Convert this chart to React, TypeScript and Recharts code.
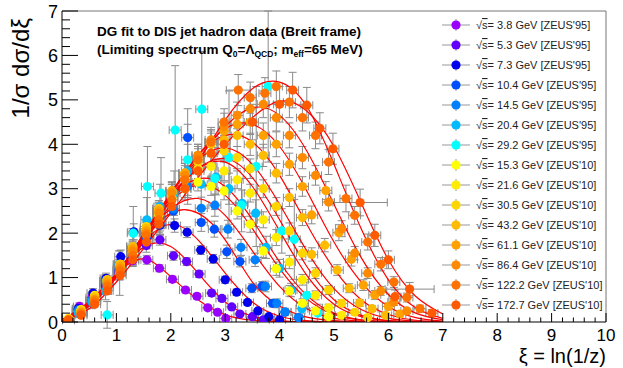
import React from "react";
import {
  ComposedChart,
  XAxis,
  YAxis,
  Scatter,
  Line,
  ErrorBar,
  ReferenceLine,
} from "recharts";

const W = 623;
const H = 368;

// legend labels and marker colours (legend order)
const LABELS = [
  "3.8 GeV [ZEUS'95]",
  "5.3 GeV [ZEUS'95]",
  "7.3 GeV [ZEUS'95]",
  "10.4 GeV [ZEUS'95]",
  "14.5 GeV [ZEUS'95]",
  "20.4 GeV [ZEUS'95]",
  "29.2 GeV [ZEUS'95]",
  "15.3 GeV [ZEUS'10]",
  "21.6 GeV [ZEUS'10]",
  "30.5 GeV [ZEUS'10]",
  "43.2 GeV [ZEUS'10]",
  "61.1 GeV [ZEUS'10]",
  "86.4 GeV [ZEUS'10]",
  "122.2 GeV [ZEUS'10]",
  "172.7 GeV [ZEUS'10]",
];
const COLORS = [
  "#9900ff", "#6200ff", "#0000ee", "#0050ff", "#0080ff", "#00bbff", "#00ffff",
  "#ffff00", "#ffec00", "#ffd500", "#ffbb00", "#ffa200", "#ff8a00", "#ff7200", "#ff5a00",
];

// data points: [xi, value, yError, xError?]
const D_38 = [[0.32,0.35,0.08],[0.55,0.55,0.1],[0.8,0.85,0.1],[1.05,1.15,0.12],[1.3,1.38,0.12],[1.56,1.4,0.1],[1.79,1.21,0.08],[2.03,0.96,0.07],[2.27,0.72,0.06],[2.48,0.58,0.06],[2.68,0.32,0.05],[2.86,0.22,0.04],[3.01,0.08,0.03]];
const D_53 = [[0.3,0.25,0.08],[0.55,0.48,0.1],[0.8,0.8,0.12],[1.05,1.1,0.15],[1.3,1.45,0.15],[1.55,1.72,0.15],[1.8,1.85,0.12],[2.05,1.49,0.1],[2.29,1.36,0.09],[2.52,1.08,0.08],[2.75,0.65,0.07],[2.94,0.53,0.06],[3.12,0.34,0.05],[3.27,0.18,0.04],[3.5,0.12,0.03],[3.7,0.05,0.03]];
const D_73 = [[0.3,0.3,0.08],[0.57,0.65,0.1],[0.81,0.98,0.12],[1.08,1.47,0.15],[1.32,2.03,0.18],[1.57,1.95,0.2],[1.8,2.18,0.2],[2.07,2.17,0.15],[2.3,2.02,0.12],[2.55,1.62,0.1],[2.78,1.42,0.1],[3.0,0.95,0.08],[3.21,0.67,0.07],[3.41,0.44,0.06],[3.6,0.25,0.05],[3.8,0.12,0.04],[4.0,0.05,0.03]];
const D_104 = [[0.3,0.28,0.08],[0.55,0.45,0.1],[0.8,0.9,0.15],[1.05,1.15,0.2],[1.3,1.5,0.25],[1.55,1.9,0.25],[1.8,2.2,0.25],[2.05,2.5,0.3],[2.31,4.15,0.65],[2.56,2.24,0.2],[2.8,2.09,0.18],[3.03,1.58,0.15],[3.27,1.36,0.12],[3.49,0.76,0.1],[3.68,0.81,0.1],[3.87,0.42,0.08],[4.1,0.22,0.06],[4.35,0.1,0.05]];
const D_145 = [[0.3,0.25,0.08],[0.55,0.5,0.1],[0.8,0.92,0.15],[1.05,1.2,0.2],[1.3,1.6,0.25],[1.55,2.0,0.3],[1.8,2.35,0.3],[2.05,2.55,0.3],[2.31,3.05,0.4],[2.56,2.56,0.25],[2.81,2.63,0.25],[3.05,2.09,0.2],[3.29,1.68,0.18],[3.55,1.4,0.15],[3.74,0.8,0.12],[3.95,0.42,0.1],[4.1,0.23,0.08],[4.35,0.1,0.06]];
const D_204 = [[0.3,0.2,0.1],[0.55,0.45,0.15],[0.8,0.7,0.2],[1.05,1.3,0.3],[1.3,1.7,0.4],[1.56,2.3,0.5],[1.8,2.6,0.5],[2.06,2.9,0.5],[2.31,3.4,0.6],[2.56,3.1,0.5],[2.83,3.26,0.4],[3.07,3.0,0.35],[3.31,2.67,0.3],[3.56,2.45,0.3],[3.75,1.68,0.25],[4.0,1.21,0.2],[4.21,0.72,0.15],[4.41,0.3,0.1]];
const D_292 = [[0.83,0.16,0.3],[1.06,1.1,0.5],[1.31,2.0,0.6],[1.57,3.05,0.9],[1.82,2.9,0.8],[2.08,4.32,1.45],[2.31,3.65,0.8],[2.57,4.79,1.3],[2.81,3.23,0.7],[3.07,3.7,1.5],[3.3,2.63,0.6],[3.57,3.5,1.8],[3.79,5.3,1.7],[4.04,2.05,0.5],[4.27,1.86,0.9],[4.5,0.6,0.3],[4.7,0.2,0.2]];
const D_153 = [[0.12,0.08,0.03],[0.35,0.25,0.04],[0.6,0.55,0.06],[0.83,0.95,0.08],[1.07,1.25,0.1],[1.3,1.6,0.12],[1.55,2.05,0.15],[1.78,2.4,0.15],[2.02,2.8,0.18],[2.26,3.0,0.2],[2.5,3.15,0.2],[2.74,3.05,0.2],[2.98,2.95,0.2],[3.22,2.5,0.18],[3.46,2.2,0.18],[3.7,1.6,0.15],[3.94,1.2,0.15],[4.18,0.7,0.12],[4.42,0.42,0.1],[4.66,0.25,0.08],[4.9,0.12,0.06]];
const D_216 = [[0.12,0.06,0.03],[0.35,0.28,0.04],[0.6,0.6,0.06],[0.83,0.9,0.08],[1.07,1.3,0.1],[1.3,1.65,0.12],[1.55,2.1,0.15],[1.78,2.5,0.18],[2.02,2.9,0.2],[2.26,3.2,0.2],[2.5,3.45,0.22],[2.74,3.5,0.22],[2.98,3.4,0.22],[3.22,3.2,0.2],[3.46,2.9,0.2],[3.7,2.3,0.18],[3.94,1.9,0.18],[4.18,1.35,0.15],[4.42,0.95,0.12],[4.66,0.6,0.1],[4.9,0.32,0.08],[5.14,0.15,0.06]];
const D_305 = [[0.12,0.07,0.03],[0.35,0.26,0.04],[0.6,0.58,0.06],[0.83,0.92,0.08],[1.07,1.3,0.1],[1.3,1.68,0.12],[1.55,2.15,0.15],[1.78,2.55,0.18],[2.02,2.95,0.2],[2.26,3.35,0.22],[2.5,3.6,0.22],[2.74,3.8,0.25],[2.98,3.85,0.25],[3.22,3.7,0.25],[3.46,3.45,0.22],[3.7,3.0,0.2],[3.94,2.6,0.2],[4.18,2.05,0.18],[4.42,1.55,0.15],[4.66,1.1,0.12],[4.9,0.72,0.1],[5.14,0.42,0.08],[5.38,0.22,0.06],[5.62,0.1,0.05]];
const D_432 = [[0.12,0.05,0.03],[0.35,0.25,0.04],[0.6,0.55,0.06],[0.83,0.95,0.08],[1.07,1.3,0.1],[1.3,1.7,0.12],[1.55,2.1,0.15],[1.78,2.55,0.18],[2.02,2.95,0.2],[2.26,3.35,0.22],[2.5,3.7,0.25],[2.74,4.0,0.25],[2.98,4.1,0.25],[3.22,4.2,0.25],[3.46,4.0,0.25],[3.7,3.75,0.25],[3.94,3.35,0.22],[4.18,2.8,0.2],[4.42,2.35,0.18],[4.59,1.52,0.15],[4.83,1.73,0.15],[5.06,1.17,0.12],[5.28,0.76,0.1],[5.47,0.43,0.08],[5.7,0.3,0.06],[5.95,0.15,0.05]];
const D_611 = [[0.12,0.06,0.03],[0.35,0.22,0.04],[0.6,0.5,0.06],[0.83,0.9,0.08],[1.07,1.25,0.1],[1.3,1.65,0.12],[1.55,2.05,0.15],[1.78,2.5,0.18],[2.02,2.95,0.2],[2.26,3.35,0.22],[2.5,3.75,0.25],[2.74,4.05,0.25],[2.98,4.3,0.25],[3.22,4.45,0.28],[3.46,4.5,0.28],[3.7,4.2,0.28],[3.94,4.0,0.28],[4.18,3.55,0.25],[4.42,3.05,0.22],[4.59,2.41,0.2],[4.85,2.96,0.2],[5.09,2.01,0.18],[5.32,1.41,0.15],[5.54,0.83,0.12],[5.75,0.61,0.1],[6.0,0.35,0.08],[6.21,0.18,0.06]];
const D_864 = [[0.12,0.05,0.03],[0.35,0.2,0.04],[0.6,0.5,0.06],[0.83,0.85,0.08],[1.07,1.2,0.1],[1.3,1.6,0.12],[1.55,2.0,0.15],[1.78,2.45,0.18],[2.02,2.9,0.2],[2.26,3.3,0.22],[2.5,3.75,0.25],[2.74,4.1,0.28],[2.98,4.4,0.3],[3.22,4.65,0.3],[3.46,4.8,0.3],[3.7,4.9,0.3],[3.94,4.6,0.3],[4.18,4.2,0.28],[4.42,3.7,0.25],[4.66,3.3,0.22],[4.9,2.7,0.2],[5.14,2.1,0.18],[5.38,1.55,0.15],[5.62,1.1,0.12],[5.86,0.7,0.1],[6.1,0.45,0.08],[6.34,0.25,0.06]];
const D_1222 = [[0.12,0.04,0.03],[0.35,0.18,0.04],[0.6,0.45,0.06],[0.83,0.8,0.08],[1.07,1.15,0.1],[1.3,1.5,0.12],[1.55,1.95,0.15],[1.78,2.3,0.18],[2.02,2.75,0.2],[2.26,3.2,0.22],[2.5,3.65,0.25],[2.74,4.05,0.28],[2.98,4.5,0.3],[3.24,5.22,0.35,0.22],[3.46,5.05,0.35],[3.73,5.15,0.35],[3.94,5.3,0.35],[4.18,4.95,0.35],[4.42,4.6,0.3],[4.66,4.2,0.3],[4.9,3.6,0.28],[5.22,2.78,0.3],[5.38,2.4,0.2],[5.62,1.8,0.18],[5.86,1.3,0.15],[6.1,0.9,0.12],[6.34,0.55,0.1],[6.58,0.3,0.08]];
const D_1727 = [[0.12,0.04,0.03],[0.35,0.15,0.04],[0.6,0.4,0.06],[0.83,0.7,0.08],[1.07,1.05,0.1],[1.3,1.4,0.12],[1.55,1.8,0.15],[1.78,2.2,0.18],[2.02,2.6,0.2],[2.26,3.0,0.25],[2.5,3.4,0.3],[2.74,3.8,0.3],[2.98,4.0,0.35],[3.5,4.5,0.4],[4.0,4.9,0.4],[4.24,5.22,0.4],[4.5,4.88,0.4],[4.74,4.36,0.35],[4.98,3.9,0.35],[5.48,2.69,0.3,0.5],[5.75,1.95,0.25],[6.0,1.4,0.2],[6.12,0.57,0.15],[6.39,0.74,0.15,0.45],[6.8,0.2,0.08]];

// fitted DG curves, sampled at XI_GRID
const XI_GRID = [0, 0.5, 1, 1.5, 2, 2.5, 3, 3.5, 4, 4.5, 5, 5.5, 6, 6.5, 7];
const FIT_38 = [0.05,0.46,1.08,1.42,1.02,0.5,0.16,0.04,0.01,0,0,0,0,0,0];
const FIT_53 = [0.05,0.44,1.08,1.68,1.7,1.1,0.45,0.13,0.03,0,0,0,0,0,0];
const FIT_73 = [0.05,0.42,1.07,1.8,2.2,1.85,1.1,0.45,0.13,0.03,0,0,0,0,0];
const FIT_104 = [0.04,0.41,1.07,1.85,2.45,2.45,1.85,0.9,0.36,0.11,0.03,0,0,0,0];
const FIT_145 = [0.04,0.4,1.06,1.9,2.55,2.78,2.4,1.6,0.8,0.3,0.08,0.02,0,0,0];
const FIT_204 = [0.04,0.4,1.07,1.95,2.72,3.08,2.85,2.1,1.2,0.52,0.17,0.04,0.01,0,0];
const FIT_292 = [0.04,0.38,1.04,1.92,2.8,3.45,3.68,3.25,2.3,1.25,0.5,0.15,0.03,0,0];
const FIT_153 = [0.04,0.4,1.08,1.98,2.8,3.22,3.05,2.3,1.35,0.6,0.2,0.05,0.01,0,0];
const FIT_216 = [0.04,0.4,1.07,1.98,2.85,3.45,3.6,3.05,2.05,1.05,0.4,0.12,0.03,0,0];
const FIT_305 = [0.04,0.39,1.06,1.97,2.9,3.65,3.92,3.55,2.65,1.6,0.75,0.28,0.08,0.02,0];
const FIT_432 = [0.04,0.38,1.05,1.95,2.9,3.75,4.2,4.05,3.3,2.2,1.2,0.5,0.17,0.04,0.01];
const FIT_611 = [0.04,0.38,1.04,1.9,2.85,3.75,4.35,4.45,3.95,2.95,1.8,0.9,0.35,0.1,0.02];
const FIT_864 = [0.04,0.37,1.02,1.85,2.75,3.65,4.4,4.82,4.65,3.85,2.65,1.45,0.62,0.2,0.05];
const FIT_1222 = [0.04,0.36,1.0,1.8,2.65,3.6,4.55,5.25,5.4,4.85,3.55,2.1,0.95,0.32,0.08];
const FIT_1727 = [0.03,0.3,0.9,1.65,2.45,3.25,4.0,4.6,4.97,4.75,3.95,2.68,1.4,0.58,0.18];

const DATA_SETS = [D_38, D_53, D_73, D_104, D_145, D_204, D_292, D_153, D_216, D_305, D_432, D_611, D_864, D_1222, D_1727];
const FITS = [FIT_38, FIT_53, FIT_73, FIT_104, FIT_145, FIT_204, FIT_292, FIT_153, FIT_216, FIT_305, FIT_432, FIT_611, FIT_864, FIT_1222, FIT_1727];

const X_MAJOR = [0, 1, 2, 3, 4, 5, 6, 7, 8, 9, 10];
const Y_MAJOR = [0, 1, 2, 3, 4, 5, 6, 7];

const FONT = "'Liberation Sans', Arial, Helvetica, sans-serif";

const xTicks = Array.from({ length: 51 }, (_, i) => Math.round(i * 2) / 10);
const yTicks = Array.from({ length: 36 }, (_, i) => Math.round(i * 2) / 10);

const isMajor = (v: number) => Math.abs(v - Math.round(v)) < 1e-6;

const XTick = (p: any) => {
  const v = p.payload.value;
  const major = isMajor(v) && X_MAJOR.includes(Math.round(v));
  return (
    <g>
      <line x1={p.x} x2={p.x} y1={p.y} y2={p.y - (major ? 9 : 4.5)} stroke="#000" />
      {major && (
        <text x={p.x} y={p.y + 19} textAnchor="middle" fontSize={17} fontFamily={FONT} fill="#000">
          {v}
        </text>
      )}
    </g>
  );
};

const YTick = (p: any) => {
  const v = p.payload.value;
  const major = isMajor(v) && Y_MAJOR.includes(Math.round(v));
  return (
    <g>
      <line x1={p.x} x2={p.x + (major ? 16 : 8)} y1={p.y} y2={p.y} stroke="#000" />
      {major && (
        <text x={p.x - 4} y={p.y + 6.5} textAnchor="end" fontSize={18} fontFamily={FONT} fill="#000">
          {v}
        </text>
      )}
    </g>
  );
};

export default function App() {
  const sets = DATA_SETS.map((rows) =>
    rows.map((r) => ({ x: r[0], y: r[1], ey: r[2], ex: r[3] ?? 0.11 }))
  );
  const fits = FITS.map((vals) => XI_GRID.map((x, i) => ({ x, y: vals[i] })));

  return (
    <div style={{ position: "absolute", left: 0, top: 0, width: W, height: H, background: "#fff" }}>
      <ComposedChart width={W} height={H} margin={{ top: 11, right: 17, bottom: 0, left: 22 }}>
        <XAxis
          type="number"
          dataKey="x"
          domain={[0, 10]}
          ticks={xTicks}
          interval={0}
          tickSize={0}
          tickMargin={0}
          tick={<XTick />}
          height={46}
          axisLine={{ stroke: "#000" }}
          allowDataOverflow
        />
        <YAxis
          type="number"
          dataKey="y"
          domain={[0, 7]}
          ticks={yTicks}
          interval={0}
          tickSize={0}
          tickMargin={0}
          tick={<YTick />}
          width={40}
          axisLine={{ stroke: "#000" }}
          allowDataOverflow
        />
        <ReferenceLine y={7} stroke="#777" />
        <ReferenceLine x={10} stroke="#777" />
        {sets.map((pts, i) => (
          <Scatter
            key={"s" + i}
            data={pts}
            dataKey="y"
            fill={COLORS[i]}
            isAnimationActive={false}
            shape={(p: any) => <circle cx={p.cx} cy={p.cy} r={4.6} fill={COLORS[i]} />}
          >
            <ErrorBar dataKey="ey" direction="y" width={4} stroke="#8a8a8a" strokeWidth={1} />
            <ErrorBar dataKey="ex" direction="x" width={4} stroke="#8a8a8a" strokeWidth={1} />
          </Scatter>
        ))}
        {fits.map((pts, i) => (
          <Line
            key={"f" + i}
            data={pts}
            dataKey="y"
            type="natural"
            stroke="#ff0000"
            strokeWidth={1.2}
            dot={false}
            activeDot={false}
            isAnimationActive={false}
          />
        ))}
      </ComposedChart>
      <svg
        width={W}
        height={H}
        style={{ position: "absolute", left: 0, top: 0, pointerEvents: "none" }}
        fontFamily={FONT}
      >
        <text x={97} y={36} fontSize={13.5} fontWeight="bold" fill="#000">
          DG fit to DIS jet hadron data (Breit frame)
        </text>
        <text x={97} y={54} fontSize={13.5} fontWeight="bold" fill="#000">
          (Limiting spectrum Q
          <tspan fontSize={8.5} dy={3}>0</tspan>
          <tspan dy={-3}>=Λ</tspan>
          <tspan fontSize={8.5} dy={3}>QCD</tspan>
          <tspan dy={-3}>; m</tspan>
          <tspan fontSize={8.5} dy={3}>eff</tspan>
          <tspan dy={-3}>=65 MeV)</tspan>
        </text>
        <text transform="rotate(-90)" x={-18} y={29} textAnchor="end" fontSize={24} fill="#000">
          1/σ dσ/dξ
        </text>
        <text x={606} y={363} textAnchor="end" fontSize={20} fill="#000">
          ξ = ln(1/z)
        </text>
        {LABELS.map((label, i) => {
          const y = 25 + 20 * i;
          return (
            <g key={label}>
              <line x1={442} x2={470} y1={y} y2={y} stroke="#999" />
              <line x1={456} x2={456} y1={y - 6} y2={y + 6} stroke="#999" />
              <circle cx={456} cy={y} r={4.6} fill={COLORS[i]} />
              <text x={476} y={y + 4} fontSize={11} fill="#222">
                √<tspan textDecoration="overline">s</tspan>= {label}
              </text>
            </g>
          );
        })}
      </svg>
    </div>
  );
}
